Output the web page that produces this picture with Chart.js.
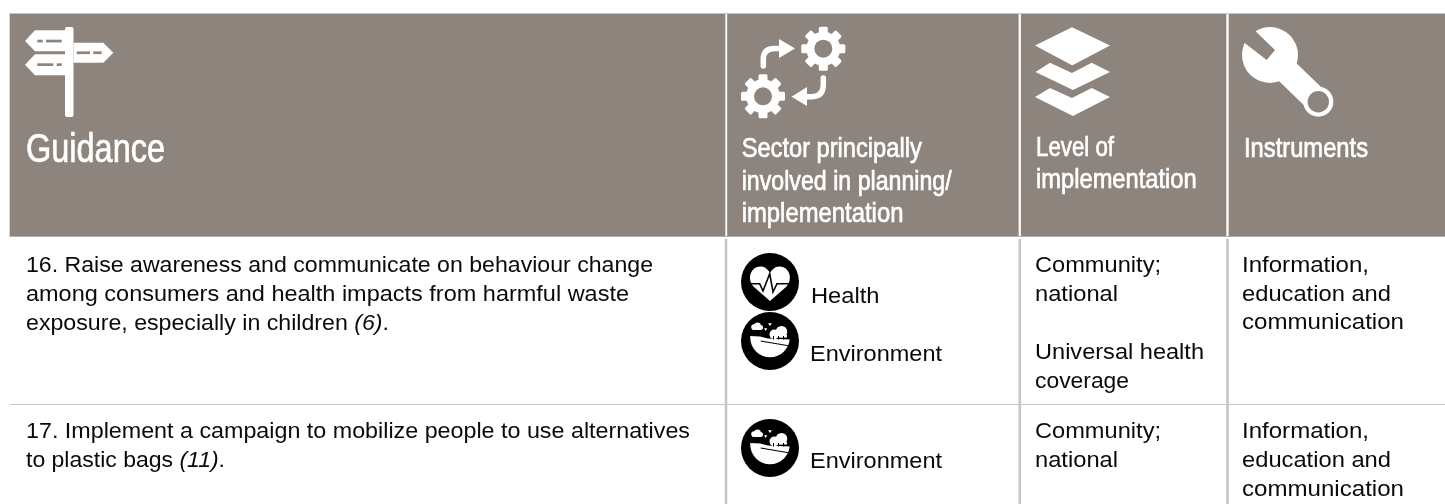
<!DOCTYPE html>
<html>
<head>
<meta charset="utf-8">
<title>Guidance table</title>
<script src="https://cdn.jsdelivr.net/npm/chart.js@4"></script>
<style>
  html, body { margin: 0; padding: 0; background: #fff; }
  canvas { display: block; }
</style>
</head>
<body>
<canvas id="table-chart" width="1445" height="504"></canvas>
<script>
// table content
const headGuidance = ['Guidance'];
const headSector = ['Sector principally', 'involved in planning/', 'implementation'];
const headLevel = ['Level of', 'implementation'];
const headInstruments = ['Instruments'];

const row16Guidance = ['16. Raise awareness and communicate on behaviour change', 'among consumers and health impacts from harmful waste', 'exposure, especially in children (6).'];
const row16Sectors = ['Health', 'Environment'];
const row16Level = ['Community;', 'national', 'Universal health', 'coverage'];
const row16Instruments = ['Information,', 'education and', 'communication'];

const row17Guidance = ['17. Implement a campaign to mobilize people to use alternatives', 'to plastic bags (11).'];
const row17Sectors = ['Environment'];
const row17Level = ['Community;', 'national'];
const row17Instruments = ['Information,', 'education and', 'communication'];

// layout, in page pixels
const BROWN = '#8d847d';
const RULE = '#c6c6c6';
const INK = '#0a0a0a';
const HEAD_FONT = '"Liberation Sans Narrow", "Liberation Sans", sans-serif';
const BODY_FONT = '"Liberation Sans", sans-serif';

const headCells = [[10, 725], [727.5, 1018.3], [1021.2, 1226], [1229, 1445]];
const vRules = [726, 1019.8, 1227.5];

const textBlocks = [
  { lines: headGuidance, x: 26, y: [162.3], w: [139], size: 40, head: true },
  { lines: headSector, x: 741.7, y: [157.3, 190, 221.7], w: [180, 210, 161.7], size: 28, head: true },
  { lines: headLevel, x: 1036, y: [155.7, 187.7], w: [78, 160.7], size: 28, head: true },
  { lines: headInstruments, x: 1244, y: [156.7], w: [124], size: 28, head: true },
  { lines: row16Guidance, x: 26, y: [271.7, 300.7, 329.5], w: [627, 603, 363], size: 22 },
  { lines: [row16Sectors[0]], x: 811, y: [302.7], w: [68.5], size: 22 },
  { lines: [row16Sectors[1]], x: 810, y: [360.7], w: [132], size: 22 },
  { lines: row16Level, x: 1035, y: [271.7, 300.7, 359.3, 388], w: [126, 83, 169, 94], size: 22 },
  { lines: row16Instruments, x: 1242, y: [271.7, 300.7, 329.3], w: [127, 149, 162], size: 22 },
  { lines: row17Guidance, x: 26, y: [438, 466.7], w: [664, 199], size: 22 },
  { lines: row17Sectors, x: 810, y: [468.3], w: [132], size: 22 },
  { lines: row17Level, x: 1035, y: [438, 466.7], w: [126, 83], size: 22 },
  { lines: row17Instruments, x: 1242, y: [438, 466.7, 495.8], w: [127, 149, 162], size: 22 }
];

// icons are small canvases used as point styles, origin at the centre
function makeIcon(w, h, draw) {
  const c = document.createElement('canvas');
  c.width = w;
  c.height = h;
  const g = c.getContext('2d');
  g.translate(w / 2, h / 2);
  g.fillStyle = '#fff';
  g.strokeStyle = '#fff';
  draw(g);
  return c;
}

function poly(g, pts) {
  g.beginPath();
  pts.forEach((p, i) => i ? g.lineTo(p[0], p[1]) : g.moveTo(p[0], p[1]));
  g.closePath();
  g.fill();
}

function cut(g, draw) {
  g.save();
  g.globalCompositeOperation = 'destination-out';
  g.fillStyle = '#000';
  g.strokeStyle = '#000';
  draw();
  g.restore();
}

function disc(g, x, y, r) {
  g.beginPath();
  g.arc(x, y, r, 0, Math.PI * 2);
  g.fill();
}

function gear(g, x, y) {
  g.save();
  g.translate(x, y);
  disc(g, 0, 0, 17);
  for (let i = 0; i < 8; i++) {
    g.save();
    g.rotate(i * Math.PI / 4);
    g.beginPath();
    g.roundRect(-4.5, -22, 9, 10, 1.5);
    g.fill();
    g.restore();
  }
  cut(g, () => disc(g, 0, 0, 9));
  g.restore();
}

const iconSign = makeIcon(100, 106, g => {
  g.beginPath();
  g.roundRect(-5, -45, 8.5, 90, 2);
  g.fill();
  poly(g, [[-45, -31], [-35, -41.7], [-5, -41.7], [-5, -20.7], [-35, -20.7]]);
  poly(g, [[-45, -7.3], [-35, -17.7], [-5, -17.7], [-5, 3.3], [-35, 3.3]]);
  poly(g, [[3.5, -29.3], [33.3, -29.3], [43.3, -19.3], [33.3, -9.3], [3.5, -9.3]]);
  cut(g, () => {
    [[-32.7, -32.3, 5.4], [-24, -32.3, 15.7], [-32.7, -8.7, 16], [-13.3, -8.7, 5], [6.7, -20.6, 13.3], [23.3, -20.6, 8.4]].forEach(d => {
      g.fillRect(d[0], d[1], d[2], 2.7);
    });
  });
});

const iconGears = makeIcon(130, 110, g => {
  gear(g, 30.3, -23.3);
  gear(g, -30, 24.3);
  g.lineWidth = 5.5;
  g.lineCap = 'round';
  g.beginPath();
  g.moveTo(-29.7, -6);
  g.lineTo(-29.7, -13);
  g.quadraticCurveTo(-29.7, -23.5, -18, -23.5);
  g.lineTo(-12, -23.5);
  g.stroke();
  poly(g, [[-14, -33], [2, -23.5], [-14, -14]]);
  g.beginPath();
  g.moveTo(30.3, 6);
  g.lineTo(30.3, 13);
  g.quadraticCurveTo(30.3, 24.7, 18, 24.7);
  g.lineTo(12, 24.7);
  g.stroke();
  poly(g, [[14, 15], [-1.5, 24.7], [14, 34]]);
});

const iconLayers = makeIcon(90, 104, g => {
  poly(g, [[-38, -26.5], [-1, -44.7], [37, -26.5], [0, -7], [-1.5, -7]]);
  poly(g, [[-37.5, 0], [-23, -9.3], [-1, 1], [18.7, -9.3], [37, 0], [0, 18]]);
  poly(g, [[-38, 25], [-23, 16], [-1, 26], [18.7, 16], [37, 25], [0, 44]]);
});

const iconWrench = makeIcon(110, 110, g => {
  disc(g, -10, -17, 28);
  g.lineWidth = 25;
  g.beginPath();
  g.moveTo(-10, -17);
  g.lineTo(38.3, 29.7);
  g.stroke();
  disc(g, 38.3, 29.7, 15);
  cut(g, () => {
    disc(g, 38.3, 29.7, 10.7);
    g.beginPath();
    g.moveTo(-25, -41.3);
    g.lineTo(-5, -22);
    g.lineTo(-13.3, -12);
    g.lineTo(-35, -28.7);
    g.lineTo(-50, -45);
    g.lineTo(-30, -55);
    g.closePath();
    g.fill();
  });
});

const iconHealth = makeIcon(60, 60, g => {
  g.fillStyle = '#000';
  disc(g, 0, 0, 29);
  g.fillStyle = '#fff';
  g.beginPath();
  g.moveTo(0, 19);
  g.lineTo(-16, 5);
  g.bezierCurveTo(-24, -3, -19, -16, -9, -15.5);
  g.bezierCurveTo(-5, -15.5, -1.5, -12, 0, -9);
  g.bezierCurveTo(1.5, -12, 5, -15.5, 9, -15.5);
  g.bezierCurveTo(19, -16, 24, -3, 16, 5);
  g.closePath();
  g.fill();
  g.strokeStyle = '#000';
  g.lineWidth = 1.6;
  g.beginPath();
  [[-20, 1.7], [-10.3, 1.7], [-7, 9], [-0.3, -8.3], [3, 10], [7, 1.7], [20, 1.7]].forEach((p, i) => {
    i ? g.lineTo(p[0], p[1]) : g.moveTo(p[0], p[1]);
  });
  g.stroke();
});

const iconEnvironment = makeIcon(60, 60, g => {
  g.fillStyle = '#000';
  disc(g, 0, 0, 29);
  g.fillStyle = '#fff';
  // cloud and birds
  disc(g, -16, -14, 2.8);
  disc(g, -12.5, -15, 3.4);
  disc(g, -9.5, -13.5, 2.5);
  g.fillRect(-17.5, -13.5, 8, 2.5);
  poly(g, [[-2, -17.7], [2, -17.7], [0, -15]]);
  poly(g, [[-6, -12.7], [-2.7, -12.7], [-4.3, -10]]);
  // trees
  disc(g, 11.5, -9.3, 5.8);
  disc(g, 4.3, -6.7, 4.8);
  g.fillRect(0.5, -6, 16.5, 2.5);
  // hill, the lower edge sits on a circle a little above the disc centre
  g.save();
  g.beginPath();
  g.arc(0, -3.5, 19.8, 0, Math.PI * 2);
  g.clip();
  g.beginPath();
  g.moveTo(-20, -5);
  g.lineTo(-10, -4.5);
  g.lineTo(-2, -2.5);
  g.lineTo(20, -1.5);
  g.lineTo(20, 20);
  g.lineTo(-20, 20);
  g.closePath();
  g.fill();
  g.strokeStyle = '#000';
  g.lineWidth = 1.1;
  g.beginPath();
  g.moveTo(-9.3, 0);
  g.lineTo(20, 5);
  g.stroke();
  g.restore();
  g.fillStyle = '#000';
  [3, 8, 13].forEach(x => g.fillRect(x, -5, 1, 3.5));
});

// real text drawn at scale positions, each line fitted to its measured width
const textPlugin = {
  id: 'tableText',
  afterDatasetsDraw(chart) {
    const ctx = chart.ctx;
    const xs = chart.scales.x;
    const ys = chart.scales.y;
    ctx.save();
    ctx.textBaseline = 'alphabetic';
    textBlocks.forEach(b => {
      const family = b.head ? HEAD_FONT : BODY_FONT;
      ctx.fillStyle = b.head ? '#fff' : INK;
      ctx.strokeStyle = '#fff';
      ctx.lineWidth = 0.7;
      b.lines.forEach((line, i) => {
        const parts = line.split(/(\(\d+\))/).filter(s => s.length);
        const fontOf = p => (/^\(\d+\)$/.test(p) ? 'italic ' : '') + b.size + 'px ' + family;
        let total = 0;
        parts.forEach(p => {
          ctx.font = fontOf(p);
          total += ctx.measureText(p).width;
        });
        const sx = b.w[i] / total;
        ctx.save();
        ctx.translate(xs.getPixelForValue(b.x), ys.getPixelForValue(b.y[i]));
        ctx.scale(sx, 1);
        let cx = 0;
        parts.forEach(p => {
          ctx.font = fontOf(p);
          ctx.fillText(p, cx, 0);
          if (b.head) ctx.strokeText(p, cx, 0);
          cx += ctx.measureText(p).width;
        });
        ctx.restore();
      });
    });
    ctx.restore();
  }
};

const chart = new Chart(document.getElementById('table-chart').getContext('2d'), {
  type: 'bar',
  data: {
    datasets: [
      {
        type: 'bar',
        data: headCells.map(c => ({ x: c, y: 124.75 })),
        backgroundColor: BROWN,
        barThickness: 223,
        grouped: false,
        indexAxis: 'y',
        order: 2
      },
      ...vRules.map(x => ({
        type: 'scatter',
        showLine: true,
        data: [{ x: x, y: 239 }, { x: x, y: 504 }],
        borderColor: RULE,
        borderWidth: 2.6,
        pointRadius: 0
      })),
      ...[[13.5, 1.2, RULE], [236.5, 1, '#b5b0ac'], [404.5, 1, RULE]].map(r => ({
        type: 'scatter',
        showLine: true,
        data: [{ x: 10, y: r[0] }, { x: 1445, y: r[0] }],
        borderColor: r[2],
        borderWidth: r[1],
        pointRadius: 0
      })),
      {
        type: 'scatter',
        data: [{ x: 70, y: 72 }, { x: 793, y: 72 }, { x: 1073, y: 72 }, { x: 1280, y: 72 },
               { x: 770, y: 282 }, { x: 770, y: 341 }, { x: 770, y: 448 }],
        pointStyle: [iconSign, iconGears, iconLayers, iconWrench, iconHealth, iconEnvironment, iconEnvironment],
        order: 0
      }
    ]
  },
  options: {
    responsive: false,
    animation: false,
    indexAxis: 'y',
    layout: { padding: 0, autoPadding: false },
    events: [],
    plugins: { legend: { display: false }, tooltip: { enabled: false } },
    scales: {
      x: { type: 'linear', min: 0, max: 1445, display: false, offset: false },
      y: { type: 'linear', min: 0, max: 504, reverse: true, display: false, offset: false }
    }
  },
  plugins: [textPlugin]
});
</script>
</body>
</html>
